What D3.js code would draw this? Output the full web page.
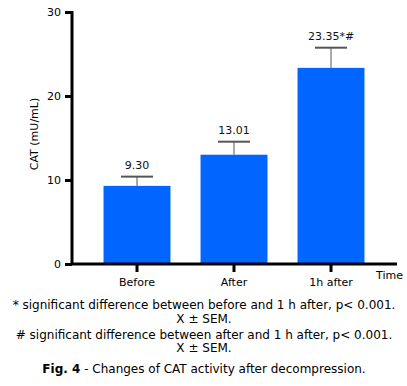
<!DOCTYPE html>
<html><head><meta charset="utf-8">
<script src="https://cdn.jsdelivr.net/npm/d3@7/dist/d3.min.js"></script>
<style>body{margin:0;background:#fff}svg{display:block}</style>
</head><body>
<script>
const categories = ["Before", "After", "1h after"];
const values = [9.30, 13.01, 23.35];
const sems = [1.1, 1.55, 2.4];
const valueLabels = ["9.30", "13.01", "23.35*#"];
const yTicks = [0, 10, 20, 30];
const footnotes = [
  "* significant difference between before and 1 h after, p< 0.001.",
  "X ± SEM.",
  "# significant difference between after and 1 h after, p< 0.001.",
  "X ± SEM."
];

const W = 407, H = 386;
const font = "Verdana, 'DejaVu Sans', sans-serif";
const svg = d3.select("body").append("svg").attr("width", W).attr("height", H)
  .style("font-family", font);

const y = d3.scaleLinear().domain([0, 30]).range([264, 12]);
const x = d3.scaleBand().domain(categories).range([88.5, 379.5])
  .paddingInner(0.31).paddingOuter(0.155);

// bars
svg.selectAll("rect.bar").data(values).join("rect")
  .attr("x", (d, i) => x(categories[i]))
  .attr("width", x.bandwidth())
  .attr("y", d => y(d))
  .attr("height", d => y(0) - y(d))
  .attr("fill", "#0066ff");

// error bars
const eb = svg.append("g").attr("stroke", "#555");
values.forEach((v, i) => {
  const cx = x(categories[i]) + x.bandwidth() / 2;
  eb.append("line").attr("x1", cx).attr("x2", cx).attr("y1", y(v)).attr("y2", y(v + sems[i])).attr("stroke-width", 1);
  eb.append("line").attr("x1", cx - 16).attr("x2", cx + 16).attr("y1", y(v + sems[i])).attr("y2", y(v + sems[i])).attr("stroke-width", 2);
  svg.append("text").attr("x", cx).attr("y", y(v + sems[i]) - 8)
    .attr("text-anchor", "middle").attr("font-size", 11).attr("fill", "#111").text(valueLabels[i]);
});

// y axis
const ya = svg.append("g").attr("transform", "translate(72,0)")
  .call(d3.axisLeft(y).tickValues(yTicks).tickSize(7).tickPadding(4).tickSizeOuter(0));
ya.select(".domain").attr("stroke-width", 3).attr("d", `M0,${y(30) - 1}V${y(0)}`);
ya.selectAll(".tick line").attr("stroke-width", 3);
ya.selectAll(".tick text").attr("font-size", 11).attr("font-family", font).attr("fill", "#000");

// x axis
const xa = svg.append("g").attr("transform", `translate(0,${y(0)})`)
  .call(d3.axisBottom(x).tickSize(8).tickPadding(6).tickSizeOuter(0));
xa.select(".domain").attr("stroke-width", 3).attr("d", "M71,0H397");
xa.selectAll(".tick line").attr("stroke-width", 3);
xa.selectAll(".tick text").attr("font-size", 11).attr("font-family", font).attr("fill", "#000");

svg.append("text").attr("x", 376).attr("y", 279).attr("font-size", 11).text("Time");

svg.append("text").attr("transform", "translate(38,134) rotate(-90)")
  .attr("text-anchor", "middle").attr("font-size", 11).text("CAT (mU/mL)");

const fy = [309, 323, 339, 352];
footnotes.forEach((t, i) => {
  svg.append("text").attr("x", 204).attr("y", fy[i]).attr("text-anchor", "middle")
    .attr("font-size", 12).text(t);
});

const fig = svg.append("text").attr("x", 204).attr("y", 373).attr("text-anchor", "middle").attr("font-size", 12);
fig.append("tspan").attr("font-weight", "bold").text("Fig. 4");
fig.append("tspan").text(" - Changes of CAT activity after decompression.");
</script>
</body></html>
